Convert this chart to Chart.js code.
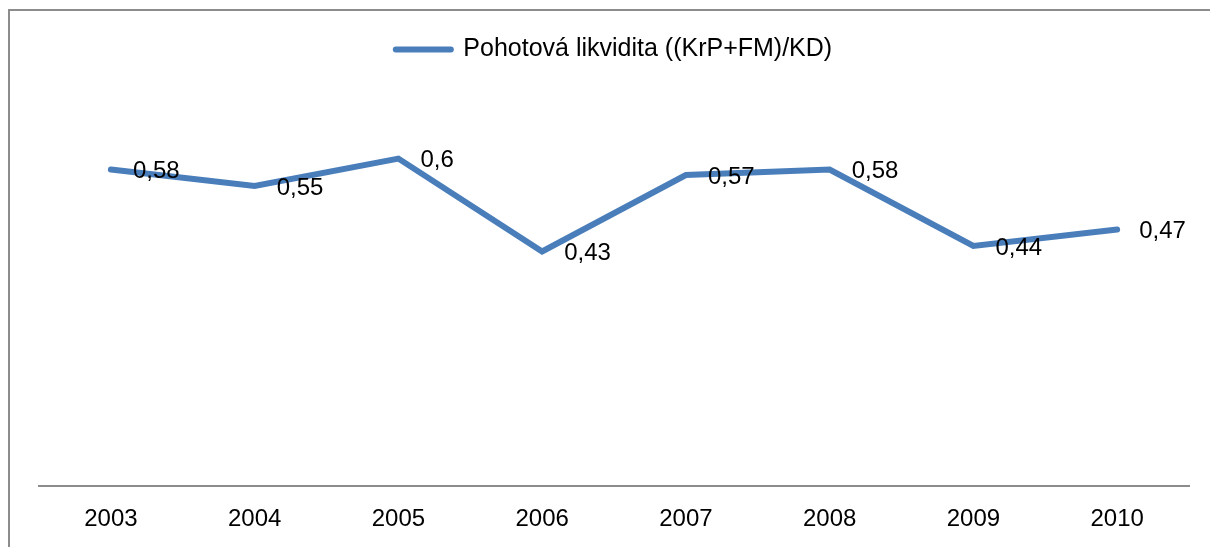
<!DOCTYPE html>
<html>
<head>
<meta charset="utf-8">
<script src="https://cdn.jsdelivr.net/npm/chart.js@4/dist/chart.umd.min.js"></script>
<style>
  html, body { margin: 0; padding: 0; background: #fff; overflow: hidden; }
  #wrap { position: relative; width: 1210px; height: 547px; overflow: hidden; }
  #frame { position: absolute; left: 8px; top: 9px; width: 1400px; height: 800px;
           border: 2px solid #8c8c8c; box-sizing: border-box; pointer-events: none; }
  canvas { position: absolute; left: 0; top: 0; }
</style>
</head>
<body>
<div id="wrap">
  <canvas id="chart" width="1210" height="553"></canvas>
  <div id="frame"></div>
</div>
<script>
const years = ["2003", "2004", "2005", "2006", "2007", "2008", "2009", "2010"];
const quickRatio = [0.58, 0.55, 0.6, 0.43, 0.57, 0.58, 0.44, 0.47];
const seriesName = "Pohotová likvidita ((KrP+FM)/KD)";

const FONT = "'Liberation Sans', Arial, sans-serif";

// value labels to the right of each point, decimal comma
const valueLabels = {
  id: "valueLabels",
  afterDatasetsDraw(chart) {
    const ctx = chart.ctx;
    const meta = chart.getDatasetMeta(0);
    ctx.save();
    ctx.font = "24px " + FONT;
    ctx.fillStyle = "#000";
    ctx.textAlign = "left";
    ctx.textBaseline = "middle";
    meta.data.forEach((pt, i) => {
      const txt = String(quickRatio[i]).replace(".", ",");
      ctx.fillText(txt, pt.x + 22, pt.y + 2);
    });
    ctx.restore();
  }
};

// push the plot area down below the legend
const legendSpace = {
  id: "legendSpace",
  beforeInit(chart) {
    const fit = chart.legend.fit;
    chart.legend.fit = function () {
      fit.call(this);
      this.height += 32;
    };
  }
};

new Chart(document.getElementById("chart"), {
  type: "line",
  data: {
    labels: years,
    datasets: [{
      label: seriesName,
      data: quickRatio,
      borderColor: "#4a7ebb",
      backgroundColor: "#4a7ebb",
      borderWidth: 6,
      borderCapStyle: "round",
      borderJoinStyle: "miter",
      pointRadius: 0,
      pointHoverRadius: 0,
      tension: 0
    }]
  },
  options: {
    responsive: false,
    animation: false,
    layout: { padding: { left: 39, right: 21, top: 17, bottom: 0 } },
    plugins: {
      tooltip: { enabled: false },
      legend: {
        position: "top",
        labels: {
          usePointStyle: true,
          pointStyle: "line",
          pointStyleWidth: 55,
          color: "#000",
          font: { family: FONT, size: 25 },
          padding: 20,
          generateLabels(chart) {
            const ds = chart.data.datasets[0];
            return [{
              text: ds.label,
              fillStyle: ds.borderColor,
              strokeStyle: ds.borderColor,
              lineWidth: 6,
              lineCap: "round",
              pointStyle: "line",
              datasetIndex: 0
            }];
          }
        }
      }
    },
    scales: {
      x: {
        offset: true,
        grid: { display: false, drawTicks: false },
        border: { display: true, color: "#8c8c8c", width: 2 },
        ticks: { color: "#000", font: { family: FONT, size: 24 }, padding: 19 }
      },
      y: {
        display: false,
        min: 0,
        max: 0.7
      }
    }
  },
  plugins: [valueLabels, legendSpace]
});
</script>
</body>
</html>
